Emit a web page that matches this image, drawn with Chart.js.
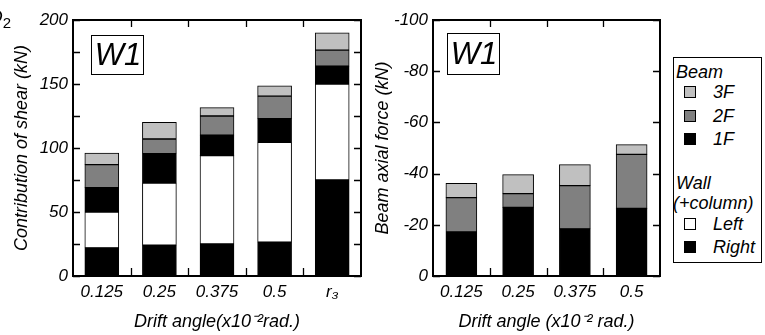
<!DOCTYPE html>
<html><head><meta charset="utf-8">
<script src="https://cdn.jsdelivr.net/npm/chart.js"></script>
<style>
html,body{margin:0;padding:0;background:#fff;}
body{width:765px;height:335px;position:relative;overflow:hidden;font-family:"Liberation Sans",Arial,sans-serif;color:#000;}
canvas{position:absolute;top:0;}
#c1{left:0;}
#c2{left:365px;}
#legend{position:absolute;left:673px;top:57px;width:89px;height:206px;box-sizing:border-box;border:1px solid #000;background:#fff;}
.lt{position:absolute;font-style:italic;font-size:18px;line-height:20px;white-space:nowrap;}
.sw{position:absolute;width:12px;height:12px;box-sizing:border-box;border:1px solid #000;}
#corner{position:absolute;left:-12px;top:6px;font-style:italic;font-size:19px;}
#corner sub{font-style:normal;font-size:15px;}
</style></head><body>
<canvas id="c1" width="365" height="335"></canvas>
<canvas id="c2" width="400" height="335"></canvas>
<div id="corner">Q<sub>2</sub></div>
<div id="legend"></div>
<script>
// ---- data ----
const leftCategories = ['0.125', '0.25', '0.375', '0.5', 'r₃'];
const wallRight = [22, 24, 25, 26.5, 75];
const wallLeft = [28, 48.5, 69, 78, 75];
const beam1F = [19, 23, 16, 18.5, 14];
const beam2F = [18, 11.5, 15, 17.5, 12.5];
const beam3F = [9, 13, 6.5, 8, 13.5];

const rightCategories = ['0.125', '0.25', '0.375', '0.5'];
const axial1F = [-17.2, -26.8, -18.4, -26.4];
const axial2F = [-13.4, -5.4, -16.9, -21.1];
const axial3F = [-5.6, -7.4, -8.2, -3.8];

const leftTicks = [0, 50, 100, 150, 200];
const rightTicks = [0, -20, -40, -60, -80, -100];

const C_BLACK = '#000000', C_DARK = '#808080', C_LIGHT = '#c0c0c0', C_WHITE = '#ffffff';

Chart.defaults.font.family = "'Liberation Sans', Arial, sans-serif";
Chart.defaults.color = '#000';

const framePlugin = {
  id: 'frame',
  afterDatasetsDraw(chart, args, o) {
    const {ctx, chartArea: {left, top, right, bottom}} = chart;
    const xs = chart.scales.x, ys = chart.scales.y;
    ctx.save();
    ctx.strokeStyle = '#000';
    ctx.beginPath();
    for (let v = o.from; o.step > 0 ? v <= o.to : v >= o.to; v += o.step) {
      const py = Math.round(ys.getPixelForValue(v)) + 0.5;
      ctx.moveTo(left, py); ctx.lineTo(left + 7, py);
      ctx.moveTo(right, py); ctx.lineTo(right - 7, py);
    }
    const n = xs.getLabels().length;
    for (let i = 0; i < n - 1; i++) {
      const px = Math.round((xs.getPixelForValue(i) + xs.getPixelForValue(i + 1)) / 2) + 0.5;
      ctx.moveTo(px, top); ctx.lineTo(px, top + 7);
      ctx.moveTo(px, bottom); ctx.lineTo(px, bottom - 8);
    }
    ctx.lineWidth = 1.3;
    ctx.stroke();
    ctx.lineWidth = 2;
    ctx.strokeRect(Math.round(left), Math.round(top), Math.round(right - left), Math.round(bottom - top));
    // label box
    const bx = left + o.boxX, by = top + o.boxY;
    ctx.lineWidth = 1;
    ctx.strokeRect(bx + 0.5, by + 0.5, o.boxW, o.boxH);
    ctx.fillStyle = '#000';
    ctx.font = "italic 31px 'Liberation Sans', Arial, sans-serif";
    ctx.textAlign = 'center';
    ctx.textBaseline = 'middle';
    ctx.fillText(o.label, bx + o.boxW / 2 + 1, by + o.boxH / 2 + 2);
    ctx.restore();
  }
};

function ds(label, data, color) {
  return {label, data, backgroundColor: color, borderColor: '#000', borderWidth: 1, borderSkipped: false};
}

const tickFont = {size: 17, style: 'italic'};
const titleFont = {size: 18, style: 'italic'};

new Chart(document.getElementById('c1'), {
  type: 'bar',
  data: {
    labels: leftCategories,
    datasets: [
      ds('Right', wallRight, C_BLACK),
      ds('Left', wallLeft, C_WHITE),
      ds('1F', beam1F, C_BLACK),
      ds('2F', beam2F, C_DARK),
      ds('3F', beam3F, C_LIGHT)
    ]
  },
  options: {
    responsive: false, animation: false,
    layout: {padding: {left: 0, top: 20, right: 4, bottom: 0}},
    datasets: {bar: {barThickness: 34}},
    plugins: {
      legend: {display: false}, tooltip: {enabled: false},
      frame: {from: 0, to: 200, step: 25, boxX: 18, boxY: 15, boxW: 52, boxH: 39, label: 'W1'}
    },
    scales: {
      x: {
        stacked: true,
        grid: {display: false, drawTicks: false}, border: {display: false},
        ticks: {font: tickFont, padding: 6, maxRotation: 0},
        title: {display: true, text: 'Drift angle(x10⁻²rad.)', font: titleFont, padding: {top: 0, bottom: 2}},
        afterFit(s) { s.height = 59; }
      },
      y: {
        stacked: true, min: 0, max: 200,
        grid: {display: false, drawTicks: false}, border: {display: false},
        afterBuildTicks(s) { s.ticks = leftTicks.map(v => ({value: v})); },
        ticks: {font: tickFont, padding: 5},
        title: {display: true, text: 'Contribution of shear (kN)', font: titleFont, padding: {top: 11, bottom: 0}},
        afterFit(s) { s.width = 73; }
      }
    }
  },
  plugins: [framePlugin]
});

new Chart(document.getElementById('c2'), {
  type: 'bar',
  data: {
    labels: rightCategories,
    datasets: [
      ds('1F', axial1F, C_BLACK),
      ds('2F', axial2F, C_DARK),
      ds('3F', axial3F, C_LIGHT)
    ]
  },
  options: {
    responsive: false, animation: false,
    layout: {padding: {left: 0, top: 20, right: 105, bottom: 0}},
    datasets: {bar: {barThickness: 31}},
    plugins: {
      legend: {display: false}, tooltip: {enabled: false},
      frame: {from: 0, to: -100, step: -20, boxX: 14, boxY: 13, boxW: 52, boxH: 41, label: 'W1'}
    },
    scales: {
      x: {
        stacked: true,
        grid: {display: false, drawTicks: false}, border: {display: false},
        ticks: {font: tickFont, padding: 6, maxRotation: 0},
        title: {display: true, text: 'Drift angle (x10⁻² rad.)', font: titleFont, padding: {top: 0, bottom: 2}},
        afterFit(s) { s.height = 59; }
      },
      y: {
        stacked: true, min: -100, max: 0, reverse: true,
        grid: {display: false, drawTicks: false}, border: {display: false},
        afterBuildTicks(s) { s.ticks = rightTicks.map(v => ({value: v})); },
        ticks: {font: tickFont, padding: 5},
        title: {display: true, text: 'Beam axial force (kN)', font: titleFont, padding: {top: 7, bottom: 0}},
        afterFit(s) { s.width = 68; }
      }
    }
  },
  plugins: [framePlugin]
});

// ---- legend (HTML text) ----
const legendItems = [
  {type: 'h', text: 'Beam', y: 72},
  {type: 'i', text: '3F', color: C_LIGHT, y: 92},
  {type: 'i', text: '2F', color: C_DARK, y: 116},
  {type: 'i', text: '1F', color: C_BLACK, y: 139},
  {type: 'h', text: 'Wall', y: 183},
  {type: 'h', text: '(+column)', y: 203},
  {type: 'i', text: 'Left', color: C_WHITE, y: 224},
  {type: 'i', text: 'Right', color: C_BLACK, y: 247}
];
const lg = document.getElementById('legend');
const L0 = 673, T0 = 57;
legendItems.forEach(it => {
  const t = document.createElement('div');
  t.className = 'lt';
  t.textContent = it.text;
  t.style.top = (it.y - 10 - T0 - 1) + 'px';
  if (it.type === 'h') {
    t.style.left = (it.text.startsWith('(') ? 673 : 676) - L0 - 1 + 'px';
  } else {
    t.style.left = (713 - L0 - 1) + 'px';
    const s = document.createElement('div');
    s.className = 'sw';
    s.style.background = it.color;
    s.style.left = (684 - L0 - 1) + 'px';
    s.style.top = (it.y - 6 - T0 - 1) + 'px';
    lg.appendChild(s);
  }
  lg.appendChild(t);
});
</script>
</body></html>
